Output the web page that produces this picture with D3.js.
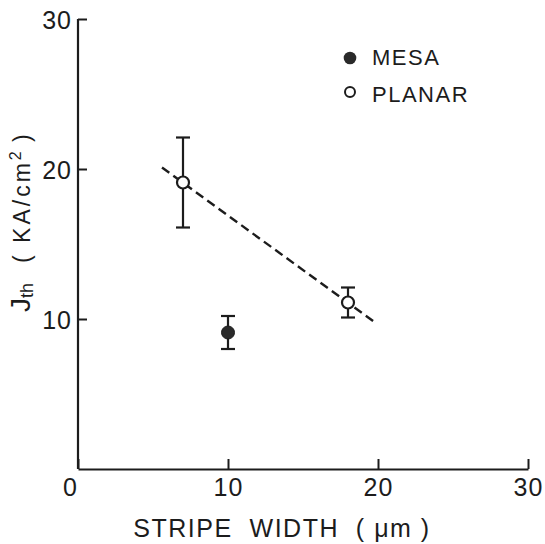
<!DOCTYPE html>
<html><head><meta charset="utf-8">
<script src="https://cdn.jsdelivr.net/npm/d3@7"></script>
<style>
html,body{margin:0;padding:0;background:#fff;}
svg{display:block;font-family:"Liberation Sans",Arial,Helvetica,sans-serif;}
</style></head>
<body>
<svg id="chart" width="545" height="544"></svg>
<script>
// ---- data ----
const xTicks = [0, 10, 20, 30];
const yTicks = [10, 20, 30];
const mesaX = [10];
const mesaY = [9.1];
const mesaLo = [8.0];
const mesaHi = [10.2];
const planarX = [7, 18];
const planarY = [19.1, 11.1];
const planarLo = [16.1, 10.1];
const planarHi = [22.1, 12.1];
const fitX = [5.6, 19.9];
const fitY = [20.1, 9.7];
const legendLabels = ["MESA", "PLANAR"];

const ink = "#1c1c1c";
const svg = d3.select("#chart");
const x = d3.scaleLinear().domain([0, 30]).range([78, 528]);
const y = d3.scaleLinear().domain([0, 30]).range([469, 19]);

// axes
const xAxis = d3.axisBottom(x).tickValues(xTicks).tickFormat(d3.format("d"))
  .tickSizeInner(-10).tickSizeOuter(0).tickPadding(9);
const yAxis = d3.axisLeft(y).tickValues(yTicks).tickFormat(d3.format("d"))
  .tickSizeInner(-9).tickSizeOuter(0).tickPadding(6);

const gx = svg.append("g").attr("transform", `translate(0,${y(0)})`).call(xAxis);
const gy = svg.append("g").attr("transform", `translate(${x(0)},0)`).call(yAxis);
[gx, gy].forEach(g => {
  g.select(".domain").attr("stroke", ink).attr("stroke-width", 2.2);
  g.selectAll(".tick line").attr("stroke", ink).attr("stroke-width", 2);
  g.selectAll(".tick text").attr("fill", ink)
    .style("font-size", "25px").style("font-family", "'Liberation Sans',Arial,sans-serif")
    .attr("letter-spacing", "1px");
});
gx.selectAll(".tick text").filter(d => d === 0).attr("dx", "-8");
gy.selectAll(".tick text").attr("dy", "0.36em");
gy.select(".domain").attr("d", `M0,${y(30)}V${y(0)}`);

// x axis title
svg.append("text").attr("x", 282).attr("y", 537).attr("text-anchor", "middle")
  .attr("fill", ink).style("font-size", "25px").attr("letter-spacing", "1.5px")
  .attr("xml:space", "preserve")
  .text("STRIPE  WIDTH  ( μm )");

// y axis title
const yt = svg.append("text").attr("transform", "translate(30,312) rotate(-90)")
  .attr("fill", ink).attr("text-anchor", "start").attr("xml:space", "preserve");
yt.append("tspan").style("font-size", "28px").text("J");
yt.append("tspan").style("font-size", "18px").attr("dy", 3).text("th");
yt.append("tspan").style("font-size", "23px").attr("dy", -3).attr("dx", 20).attr("letter-spacing", "3px").text("( KA/cm");
yt.append("tspan").style("font-size", "16px").attr("dy", -9).text("2");
yt.append("tspan").style("font-size", "23px").attr("dy", 9).attr("letter-spacing", "3px").text(" )");

// dashed fit line
const line = d3.line().x(d => x(d[0])).y(d => y(d[1]));
svg.append("path").datum(d3.zip(fitX, fitY)).attr("d", line)
  .attr("fill", "none").attr("stroke", ink).attr("stroke-width", 2.4)
  .attr("stroke-dasharray", "9,5");

// error bars
function errorBars(xs, lo, hi) {
  const g = svg.append("g").attr("stroke", ink).attr("stroke-width", 2.2);
  xs.forEach((xv, i) => {
    g.append("line").attr("x1", x(xv)).attr("x2", x(xv)).attr("y1", y(lo[i])).attr("y2", y(hi[i]));
    [lo[i], hi[i]].forEach(v => g.append("line").attr("x1", x(xv) - 7).attr("x2", x(xv) + 7)
      .attr("y1", y(v)).attr("y2", y(v)));
  });
}
errorBars(mesaX, mesaLo, mesaHi);
errorBars(planarX, planarLo, planarHi);

// points
svg.append("g").selectAll("circle").data(d3.zip(mesaX, mesaY)).join("circle")
  .attr("cx", d => x(d[0])).attr("cy", d => y(d[1])).attr("r", 6.5)
  .attr("fill", "#2a2a2a").attr("stroke", ink).attr("stroke-width", 1);
svg.append("g").selectAll("circle").data(d3.zip(planarX, planarY)).join("circle")
  .attr("cx", d => x(d[0])).attr("cy", d => y(d[1])).attr("r", 6)
  .attr("fill", "#fff").attr("stroke", ink).attr("stroke-width", 2.2);

// legend
const leg = svg.append("g");
leg.append("circle").attr("cx", 350).attr("cy", 58).attr("r", 6.3).attr("fill", "#2a2a2a");
leg.append("circle").attr("cx", 350).attr("cy", 92).attr("r", 5).attr("fill", "#fff")
  .attr("stroke", ink).attr("stroke-width", 2);
legendLabels.forEach((t, i) => leg.append("text").attr("x", 372).attr("y", 65 + i * 37)
  .attr("fill", ink).style("font-size", "22px").attr("letter-spacing", "1.5px").text(t));
</script>
</body></html>
